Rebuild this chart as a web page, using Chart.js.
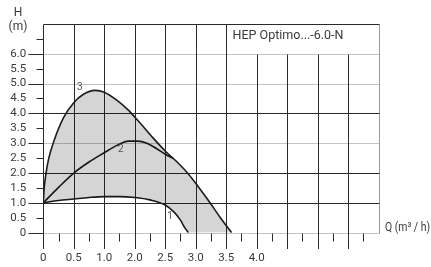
<!DOCTYPE html>
<html><head><meta charset="utf-8">
<script src="https://cdn.jsdelivr.net/npm/chart.js@4.4.1/dist/chart.umd.min.js"></script>
<style>html,body{margin:0;padding:0;background:#fff;overflow:hidden}</style>
</head><body>
<canvas id="c" width="431" height="267" style="display:block;width:431px;height:267px"></canvas>
<script>
// ---- data (Q in axis units, H in m) ----
const curve1Q = [0, 0.25, 0.5, 0.75, 1.0, 1.25, 1.5, 1.75, 2.0, 2.15, 2.25, 2.32, 2.38];
const curve1H = [1.0, 1.08, 1.13, 1.18, 1.21, 1.21, 1.18, 1.1, 0.93, 0.68, 0.42, 0.17, 0];
const curve2Q = [0, 0.25, 0.5, 0.75, 1.0, 1.2, 1.4, 1.55, 1.7, 1.85, 2.0, 2.13];
const curve2H = [1.0, 1.52, 2.0, 2.37, 2.68, 2.92, 3.07, 3.07, 3.0, 2.83, 2.63, 2.49];
const curve3Q = [0, 0.015, 0.045, 0.09, 0.17, 0.33, 0.5, 0.66, 0.85, 1.0, 1.2, 1.4, 1.5, 1.6, 1.8, 2.0, 2.2, 2.38, 2.54, 2.73, 2.9, 3.09];
const curve3H = [1.0, 1.5, 2.0, 2.5, 3.05, 3.85, 4.36, 4.64, 4.77, 4.71, 4.45, 4.1, 3.88, 3.65, 3.18, 2.74, 2.36, 1.97, 1.55, 1.02, 0.52, 0];
const curveNames = ['1', '2', '3'];
const curveLabelQ = [2.08, 1.27, 0.6];
const curveLabelH = [0.55, 2.79, 4.86];
const xTickLabels = ['0', '0.5', '1.0', '2.0', '2.5', '3.0', '3.5', '4.0'];
const yTickLabels = ['0', '0.5', '1.0', '1.5', '2.0', '2.5', '3.0', '3.5', '4.0', '4.5', '5.0', '5.5', '6.0'];
const chartTitle = 'HEP Optimo...-6.0-N';
const xAxisTitle = 'Q (m\u00B3 / h)';
const yAxisTitle = ['H', '(m)'];

const DARK = '#2a2a2a', LIGHT = '#c4c4c4', FILL = 'rgba(0,0,0,0.165)', TEXT = '#3a3a3a';
const FONT = 'Roboto, sans-serif';

const pts = (q, h) => q.map((v, i) => ({x: v, y: h[i]}));
const lowerBound = pts(curve1Q, curve1H).concat([{x: curve3Q[curve3Q.length - 1], y: 0}]);

function narrowText(ctx, text, x, y, width) {
  const w = ctx.measureText(text).width;
  const k = Math.min(1, width / w);
  ctx.save();
  ctx.translate(x, y);
  ctx.scale(k, 1);
  ctx.fillText(text, 0, 0);
  ctx.restore();
}

const gridPlugin = {
  id: 'pumpGrid',
  beforeDraw(chart) {
    const ctx = chart.ctx, xs = chart.scales.x, ys = chart.scales.y;
    const px = v => Math.round(xs.getPixelForValue(v)) + 0.5;
    const py = v => Math.round(ys.getPixelForValue(v)) + 0.5;
    const L = px(0), R = px(5.5), T = py(7), B = py(0);
    ctx.save();
    ctx.lineWidth = 1;
    const line = (x1, y1, x2, y2, c) => { ctx.strokeStyle = c; ctx.beginPath(); ctx.moveTo(x1, y1); ctx.lineTo(x2, y2); ctx.stroke(); };
    [0, 3, 5, 6].forEach(v => line(L, py(v), R, py(v), LIGHT));
    line(R, T, R, B, '#9a9a9a');
    [1, 2, 4, 7].forEach(v => line(L, py(v), R, py(v), DARK));
    for (let i = 0; i <= 10; i++) {
      const v = i * 0.5;
      const top = (v > 3.0) ? py(6) : T;
      line(px(v), top, px(v), B + 15.5, DARK);
    }
    for (let i = 0; i <= 10; i++) {
      const v = i * 0.5 + 0.25;
      line(px(v), B, px(v), B + 8, DARK);
    }
    for (let i = 0; i <= 13; i++) {
      const v = i * 0.5;
      const len = (i % 2 === 0) ? 15 : 7;
      line(L - len, py(v), L, py(v), DARK);
    }
    ctx.restore();
  },
  afterDraw(chart) {
    const ctx = chart.ctx, xs = chart.scales.x, ys = chart.scales.y;
    ctx.save();
    ctx.fillStyle = TEXT;
    ctx.textBaseline = 'middle';
    ctx.textAlign = 'left';
    ctx.font = '13.5px ' + FONT;
    narrowText(ctx, chartTitle, 232.5, 35.5, 111);
    ctx.font = '12px ' + FONT;
    narrowText(ctx, xAxisTitle, 385, 228, 45);
    ctx.textAlign = 'center';
    ctx.fillText(yAxisTitle[0], 18, 13);
    ctx.fillText(yAxisTitle[1], 18, 26.5);
    ctx.font = '10px ' + FONT;
    ctx.fillStyle = '#555';
    curveNames.forEach((n, i) => ctx.fillText(n, xs.getPixelForValue(curveLabelQ[i]), ys.getPixelForValue(curveLabelH[i])));
    ctx.restore();
  }
};

const lineStyle = {borderColor: '#1c1c1c', borderWidth: 1.6, pointRadius: 0, cubicInterpolationMode: 'monotone'};

new Chart(document.getElementById('c'), {
  type: 'line',
  data: {
    datasets: [
      Object.assign({label: curveNames[2], data: pts(curve3Q, curve3H), fill: 3, backgroundColor: FILL}, lineStyle),
      Object.assign({label: curveNames[1], data: pts(curve2Q, curve2H), fill: false}, lineStyle),
      Object.assign({label: curveNames[0], data: pts(curve1Q, curve1H), fill: false}, lineStyle),
      {label: 'lower', data: lowerBound, fill: false, borderWidth: 0, borderColor: 'rgba(0,0,0,0)', pointRadius: 0, cubicInterpolationMode: 'monotone'}
    ]
  },
  options: {
    responsive: false, animation: false, devicePixelRatio: 1,
    layout: {padding: {left: 0, right: 52.5, top: 20, bottom: 0}},
    plugins: {legend: {display: false}, tooltip: {enabled: false}},
    scales: {
      x: {
        type: 'linear', min: 0, max: 5.5,
        grid: {display: false, drawTicks: false}, border: {display: false},
        ticks: {stepSize: 0.5, autoSkip: false, maxRotation: 0, padding: 19, color: TEXT,
                font: {family: FONT, size: 11.5},
                callback: (v, i) => xTickLabels[i] ?? ''},
        afterFit: s => { s.height = 34.3; }
      },
      y: {
        type: 'linear', min: 0, max: 7,
        grid: {display: false, drawTicks: false}, border: {display: false},
        ticks: {stepSize: 0.5, autoSkip: false, padding: 17, color: TEXT,
                font: {family: FONT, size: 11.5},
                callback: (v, i) => yTickLabels[i] ?? ''},
        afterFit: s => { s.width = 43.3; }
      }
    }
  },
  plugins: [gridPlugin]
});
</script>
</body></html>
